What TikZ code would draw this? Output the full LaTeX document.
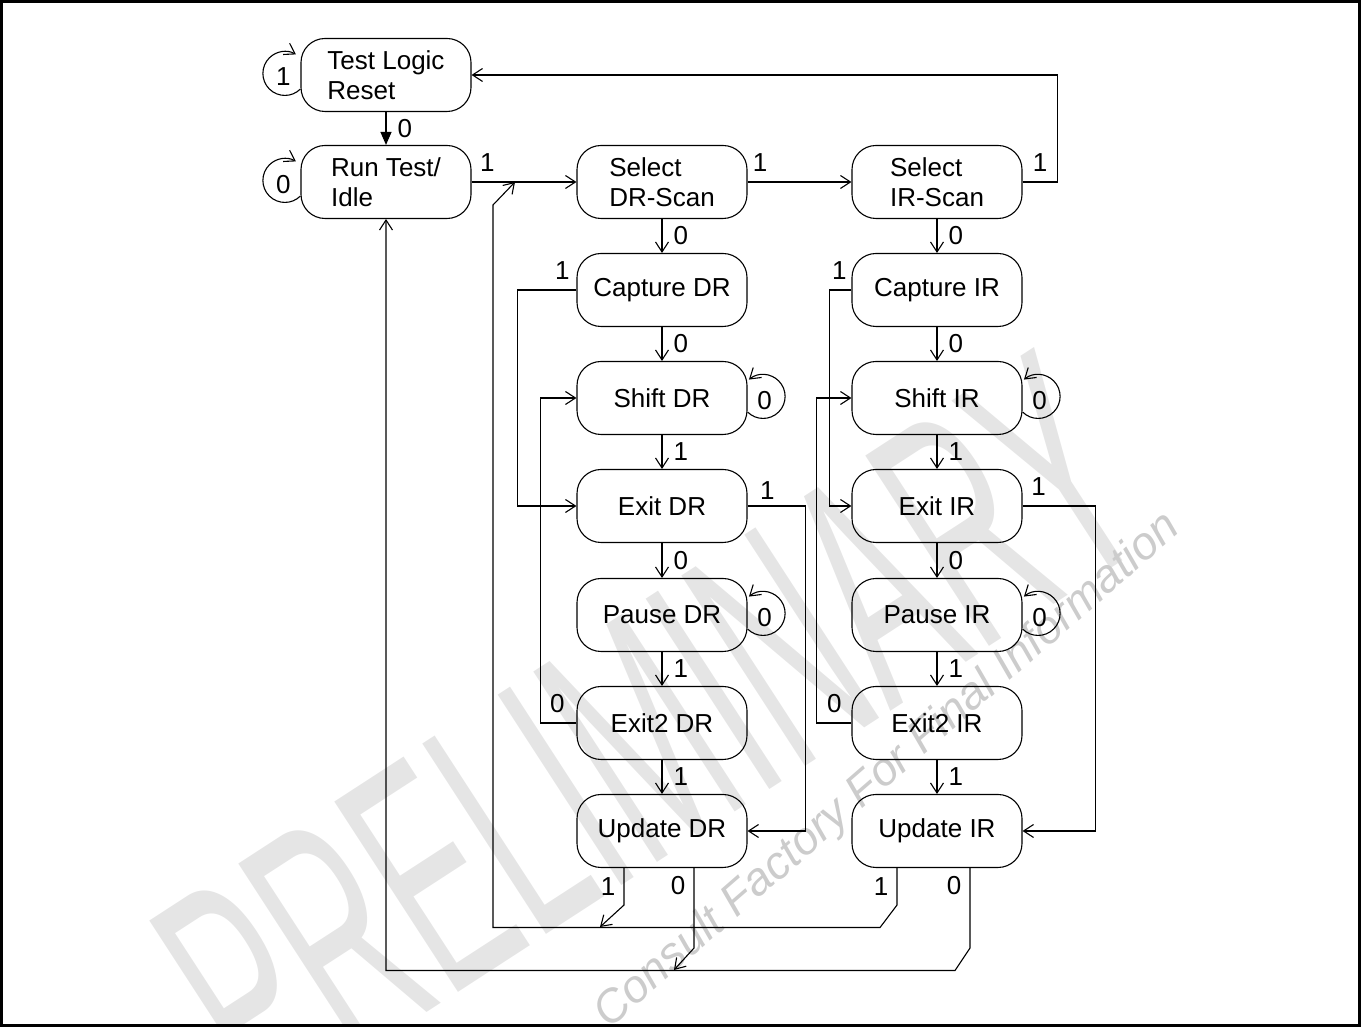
\documentclass[tikz,border=0pt]{standalone}
\usepackage{fontspec}
\setmainfont{Liberation Sans}
\usetikzlibrary{arrows.meta,positioning}

\tikzset{
  state/.style={draw,rounded corners=24pt,minimum width=170pt,minimum height=73pt,inner sep=0pt,align=left,font=\fontsize{26}{30}\selectfont},
  lbl/.style={inner sep=1pt,font=\fontsize{26}{30}\selectfont},
  wm/.style={text=gray!20,inner sep=0pt},
}

\begin{document}
\begin{tikzpicture}[x=1pt,y=1pt,line width=1.1pt,>={Straight Barb[length=10pt,width=13pt]}]
\useasboundingbox (0,0) rectangle (1361,1027);
% watermark
\node[wm,font=\fontsize{330}{330}\selectfont,rotate=33,xscale=.48] (wmprel) at (650,295) {PRELIMINARY};
\node[wm,text=gray!40,font=\fontsize{46}{46}\itshape,rotate=41] (wmcons) at (888,256) {Consult Factory For Final Information};
\draw[line width=2.5pt] (1.5,1.5) rectangle (1359.5,1025.5);

% states
\node[state] (tlr) at (386,952) {Test Logic\\Reset};
\node[state] (rti) at (386,845) {Run Test/\\Idle};
\node[state] (sdr) at (662,845) {Select\\DR-Scan};
\node[state] (cdr) at (662,737) {Capture DR};
\node[state] (shdr) at (662,629) {Shift DR};
\node[state] (edr) at (662,521) {Exit DR};
\node[state] (pdr) at (662,412) {Pause DR};
\node[state] (e2dr) at (662,304) {Exit2 DR};
\node[state] (udr) at (662,196) {Update DR};
\node[state] (sir) at (937,845) {Select\\IR-Scan};
\node[state] (cir) at (937,737) {Capture IR};
\node[state] (shir) at (937,629) {Shift IR};
\node[state] (eir) at (937,521) {Exit IR};
\node[state] (pir) at (937,412) {Pause IR};
\node[state] (e2ir) at (937,304) {Exit2 IR};
\node[state] (uir) at (937,196) {Update IR};

% self loops
\draw[->] ([yshift=-14pt]tlr.west) arc[start angle=-45,end angle=-300,radius=22];
\node[lbl] (ltlr) at ([xshift=-17pt,yshift=-2pt]tlr.west) {1};
\draw[->] ([yshift=-14pt]rti.west) arc[start angle=-45,end angle=-300,radius=22];
\node[lbl] (lrti) at ([xshift=-17pt,yshift=-3pt]rti.west) {0};
\draw[->] ([yshift=-14pt]shdr.east) arc[start angle=-135,end angle=130,radius=22];
\node[lbl] (lshdr) at ([xshift=17pt,yshift=-3pt]shdr.east) {0};
\draw[->] ([yshift=-14pt]pdr.east) arc[start angle=-135,end angle=130,radius=22];
\node[lbl] (lpdr) at ([xshift=17pt,yshift=-3pt]pdr.east) {0};
\draw[->] ([yshift=-14pt]shir.east) arc[start angle=-135,end angle=130,radius=22];
\node[lbl] (lshir) at ([xshift=17pt,yshift=-3pt]shir.east) {0};
\draw[->] ([yshift=-14pt]pir.east) arc[start angle=-135,end angle=130,radius=22];
\node[lbl] (lpir) at ([xshift=17pt,yshift=-3pt]pir.east) {0};

% top row
\draw[-{Triangle[length=13pt,width=11pt]}] (tlr) -- node[lbl,right=10pt] {0} (rti);
\draw[->] (rti) -- node[lbl,pos=.15,above=9pt] {1} (sdr);
\draw[->] (sdr) -- node[lbl,pos=.12,above=9pt] {1} (sir);
\draw[->] (sir.east) -- node[lbl,midway,above=9pt] {1} ++(35,0) |- (tlr.east);

% DR column
\draw[->] (sdr) -- node[lbl,right=10pt] {0} (cdr);
\draw[->] (cdr) -- node[lbl,right=10pt] {0} (shdr);
\draw[->] (shdr) -- node[lbl,right=10pt] {1} (edr);
\draw[->] (edr) -- node[lbl,right=10pt] {0} (pdr);
\draw[->] (pdr) -- node[lbl,right=10pt] {1} (e2dr);
\draw[->] (e2dr) -- node[lbl,right=10pt] {1} (udr);
\draw[->] (cdr.west) -- node[lbl,pos=.24,above=9pt] {1} ++(-59,0) |- (edr.west);
\draw[->] (e2dr.west) -- node[lbl,pos=.53,above=9pt] {0} ++(-36,0) |- (shdr.west);
\draw[->] (edr.east) -- node[lbl,pos=.34,above=5pt] {1} ++(58,0) |- (udr.east);

% IR column
\draw[->] (sir) -- node[lbl,right=10pt] {0} (cir);
\draw[->] (cir) -- node[lbl,right=10pt] {0} (shir);
\draw[->] (shir) -- node[lbl,right=10pt] {1} (eir);
\draw[->] (eir) -- node[lbl,right=10pt] {0} (pir);
\draw[->] (pir) -- node[lbl,right=10pt] {1} (e2ir);
\draw[->] (e2ir) -- node[lbl,right=10pt] {1} (uir);
\draw[->] (cir.west) -- node[lbl,pos=.55,above=9pt] {1} ++(-22,0) |- (eir.west);
\draw[->] (e2ir.west) -- node[lbl,pos=.49,above=9pt] {0} ++(-35,0) |- (shir.west);
\draw[->] (eir.east) -- node[lbl,pos=.22,above=9pt] {1} ++(73,0) |- (uir.east);

% back to run test / select
\coordinate (j1) at (600,100);
\coordinate (j2) at (515,845);
\coordinate (j3) at (674,57);
\draw[->] ([xshift=-38pt]udr.south) -- node[lbl,left=7pt] {1} ++(0,-37) -- (j1);
\draw[->] ([xshift=32pt]udr.south) -- node[lbl,pos=.22,left=7pt] {0} ++(0,-80) -- (j3);
\draw[->] ([xshift=-40pt]uir.south) -- node[lbl,left=7pt] {1} ++(0,-37) -- ++(-17,-22.5) -| (493,822) -- (j2);
\draw[->] ([xshift=33pt]uir.south) -- node[lbl,pos=.22,left=7pt] {0} ++(0,-80) -- ++(-15,-22.5) -| (rti.south);
\end{tikzpicture}
\end{document}
